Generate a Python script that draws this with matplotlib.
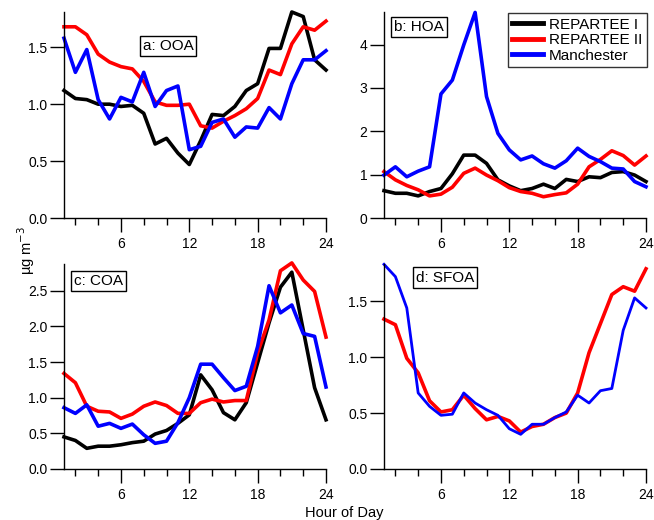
import numpy as np
import matplotlib
matplotlib.use("Agg")
import matplotlib.pyplot as plt
from matplotlib.ticker import MultipleLocator, FormatStrFormatter

plt.rcParams['font.family'] = ['Liberation Sans', 'DejaVu Sans']

hours = np.arange(1, 25)

# a: OOA
ooa_rep1 = [1.12, 1.05, 1.04, 1.00, 1.00, 0.98, 0.99, 0.92, 0.65, 0.70, 0.57, 0.47,
            0.68, 0.91, 0.90, 0.98, 1.12, 1.18, 1.49, 1.49, 1.81, 1.77, 1.39, 1.30]
ooa_rep2 = [1.68, 1.68, 1.61, 1.44, 1.37, 1.33, 1.31, 1.20, 1.02, 0.99, 0.99, 1.00,
            0.81, 0.79, 0.85, 0.90, 0.96, 1.05, 1.30, 1.26, 1.53, 1.68, 1.65, 1.73]
ooa_man = [1.58, 1.28, 1.48, 1.04, 0.87, 1.06, 1.02, 1.28, 0.98, 1.12, 1.16, 0.60,
           0.63, 0.84, 0.87, 0.71, 0.80, 0.79, 0.97, 0.87, 1.18, 1.39, 1.39, 1.47]

# b: HOA
hoa_rep1 = [0.63, 0.57, 0.57, 0.51, 0.61, 0.68, 1.02, 1.45, 1.45, 1.26, 0.88, 0.74,
            0.63, 0.68, 0.78, 0.68, 0.89, 0.84, 0.95, 0.93, 1.05, 1.07, 0.99, 0.84]
hoa_rep2 = [1.07, 0.88, 0.75, 0.65, 0.51, 0.55, 0.71, 1.03, 1.15, 0.99, 0.86, 0.70,
            0.61, 0.57, 0.49, 0.54, 0.58, 0.78, 1.18, 1.35, 1.55, 1.44, 1.22, 1.43]
hoa_man = [0.99, 1.18, 0.95, 1.08, 1.18, 2.86, 3.18, 3.99, 4.74, 2.80, 1.95, 1.57,
           1.34, 1.43, 1.25, 1.15, 1.32, 1.61, 1.42, 1.30, 1.15, 1.13, 0.84, 0.72]

# c: COA
coa_rep1 = [0.45, 0.40, 0.29, 0.32, 0.32, 0.34, 0.37, 0.39, 0.49, 0.54, 0.64, 0.76,
            1.32, 1.11, 0.79, 0.69, 0.93, 1.49, 2.05, 2.55, 2.76, 1.95, 1.14, 0.69]
coa_rep2 = [1.34, 1.21, 0.88, 0.81, 0.80, 0.71, 0.77, 0.88, 0.94, 0.89, 0.78, 0.78,
            0.93, 0.98, 0.94, 0.96, 0.96, 1.63, 2.09, 2.78, 2.89, 2.65, 2.49, 1.85]
coa_man = [0.86, 0.78, 0.90, 0.60, 0.64, 0.57, 0.63, 0.48, 0.36, 0.39, 0.65, 1.00,
           1.47, 1.47, 1.28, 1.10, 1.16, 1.72, 2.57, 2.19, 2.30, 1.90, 1.86, 1.15]

# d: SFOA (no REPARTEE I)
sfoa_rep2 = [1.34, 1.29, 0.99, 0.86, 0.61, 0.51, 0.53, 0.66, 0.54, 0.44, 0.47, 0.43,
             0.33, 0.38, 0.40, 0.46, 0.50, 0.68, 1.04, 1.30, 1.56, 1.63, 1.59, 1.79]
sfoa_man = [1.83, 1.72, 1.44, 0.68, 0.56, 0.48, 0.49, 0.68, 0.59, 0.53, 0.48, 0.36,
            0.31, 0.40, 0.40, 0.46, 0.51, 0.66, 0.59, 0.70, 0.72, 1.24, 1.53, 1.44]

fig = plt.figure(figsize=(6.54, 5.2), dpi=100)

W, H = 654, 520
def box(l, r, t, b):
    return [l / W, 1 - b / H, (r - l) / W, (b - t) / H]

ax_a = fig.add_axes(box(64, 326, 12, 218))
ax_b = fig.add_axes(box(384, 646, 12, 218))
ax_c = fig.add_axes(box(64, 326, 264, 469))
ax_d = fig.add_axes(box(384, 646, 264, 469))

panels = [
    (ax_a, [ooa_rep1, ooa_rep2, ooa_man], 1.81, 0.5, "a: OOA", (0.397, 0.835)),
    (ax_b, [hoa_rep1, hoa_rep2, hoa_man], 4.75, 1, "b: HOA", (0.132, 0.927)),
    (ax_c, [coa_rep1, coa_rep2, coa_man], 2.875, 0.5, "c: COA", (0.13, 0.917)),
    (ax_d, [None, sfoa_rep2, sfoa_man], 1.833, 0.5, "d: SFOA", (0.233, 0.934)),
]
colors = ["black", "red", "blue"]
names = ["REPARTEE I", "REPARTEE II", "Manchester"]

for ax, series, ytop, ystep, tag, pos in panels:
    for s, c, n in zip(series, colors, names):
        if s is None:
            continue
        lw = 2.0 if (ax is ax_d and c == "blue") else 2.6
        ax.plot(hours, s, color=c, lw=lw, label=n, clip_on=False)
    ax.set_xlim(1, 24)
    ax.set_ylim(0, ytop)
    ax.xaxis.set_major_locator(MultipleLocator(6))
    ax.xaxis.set_minor_locator(MultipleLocator(2))
    ax.yaxis.set_major_locator(MultipleLocator(ystep))
    if ystep < 1:
        ax.yaxis.set_major_formatter(FormatStrFormatter("%.1f"))
    for sp in ["top", "right"]:
        ax.spines[sp].set_visible(False)
    for sp in ["left", "bottom"]:
        ax.spines[sp].set_linewidth(1.0)
    ax.tick_params(which="major", direction="out", length=10, width=1, labelsize=10)
    ax.tick_params(which="minor", direction="out", length=5, width=1)
    ax.tick_params(axis="x", pad=4)
    ax.tick_params(axis="y", pad=2)
    ax.text(pos[0], pos[1], tag, transform=ax.transAxes, ha="center", va="center",
            fontsize=11,
            bbox=dict(boxstyle="square,pad=0.2", fc="white", ec="black", lw=1))

leg = ax_b.legend(loc="upper right", bbox_to_anchor=(647 / W, 1 - 13 / H),
                  bbox_transform=fig.transFigure, fontsize=11, frameon=True,
                  fancybox=False, edgecolor="black", handlelength=2.0,
                  handletextpad=0.4, labelspacing=0.1, borderpad=0.3,
                  borderaxespad=0)
leg.get_frame().set_linewidth(1.0)
leg.set_zorder(5)
for line in leg.get_lines():
    line.set_linewidth(3.5)

fig.text(0.040, 0.519, "µg m$^{-3}$", rotation=90, ha="center", va="center", fontsize=10.5)
fig.text(0.526, 0.014, "Hour of Day", ha="center", va="center", fontsize=10.5)

fig.savefig("out.png", dpi=100)
